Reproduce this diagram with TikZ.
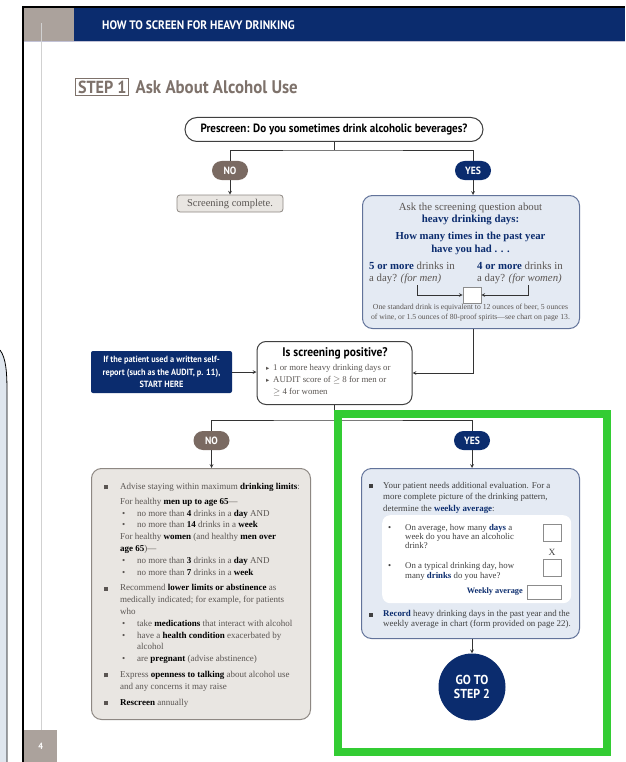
\documentclass[tikz,border=0pt]{standalone}
\usepackage{fontspec}
\setmainfont{Liberation Serif}
\newfontfamily\condfont[FakeStretch=0.92]{PT Sans}
\newfontfamily\symfont{DejaVu Sans}
\usepackage{xcolor}
\usepackage{tikz}
\usetikzlibrary{arrows,positioning}

\definecolor{navy}{HTML}{0B2C6E}
\definecolor{hdrgrey}{HTML}{ABA29C}
\definecolor{pillbrown}{HTML}{7A6A62}
\definecolor{steptxt}{HTML}{7E726B}
\definecolor{blufill}{HTML}{E4EAF3}
\definecolor{bluline}{HTML}{62739A}
\definecolor{greyfill}{HTML}{E9E6E2}
\definecolor{greyline}{HTML}{8E8883}
\definecolor{bodytxt}{HTML}{5A5552}
\definecolor{hlgreen}{HTML}{33CC33}
\definecolor{stripfill}{HTML}{DFE6EE}

\newcommand{\hb}[1]{\textbf{\color{black}#1}}
\newcommand{\nb}[1]{\textbf{\color{navy}#1}}
\newcommand{\sqbul}{\makebox[17pt][l]{\hspace{1pt}\rule{4pt}{4pt}}}
\newcommand{\dotbul}{\hspace*{19pt}\makebox[15pt][l]{\textbullet}}
\newcommand{\tribul}{\makebox[7pt][l]{{\symfont\fontsize{6.5}{6.5}\selectfont ▸}}}

\begin{document}
\begin{tikzpicture}[x=1pt, y=-1pt, >=stealth,
        pill/.style={rectangle, rounded corners=9.5pt, text=white, minimum width=36pt, minimum height=19pt, inner sep=0pt, font=\condfont\bfseries\fontsize{10.5}{10.5}\selectfont},
        nopill/.style={pill, fill=pillbrown},
        yespill/.style={pill, fill=navy},
        blubox/.style={rectangle, draw=bluline, fill=blufill, line width=1pt, rounded corners=10pt, minimum width=#1, anchor=north west, inner sep=0pt},
        greybox/.style={rectangle, draw=greyline, fill=greyfill, line width=1pt, rounded corners=10pt, anchor=north west, inner sep=0pt},
        ansbox/.style={rectangle, draw=black!45, fill=white, line width=0.6pt, inner sep=0pt},
        body/.style={anchor=north west, align=left, inner sep=0pt, text=bodytxt},
        cond/.style={font=\condfont\bfseries\fontsize{#1}{#1}\selectfont},
        wire/.style={draw=black!80, line width=0.7pt},
        link/.style={wire, ->}
    ]
    \useasboundingbox (0,0) rectangle (625,762);

    % page edge and neighbouring sheet
    \fill[stripfill] (0,350) .. controls (6,358) and (7,372) .. (7,392) -- (7,762) -- (0,762) -- cycle;
    \draw[line width=0.8pt] (0,350) .. controls (6,358) and (7,372) .. (7,392) -- (7,762);
    \fill[white] (23,7) rectangle (625,762);
    \draw[line width=1.3pt] (23,762) -- (23,7) -- (625,7);

    % header
    \fill[hdrgrey] (23.6,8) rectangle (74,41);
    \fill[navy] (74,8) rectangle (625,41);
    \draw[draw=blue!20!gray!40, line width=1pt] (23.6,41.5) -- (625,41.5);
    \draw[black!18, line width=0.8pt] (41,23) -- (41,730);
    \node[cond=12.3, text=white, anchor=west, inner sep=0pt] (header) at (102,25) {HOW TO SCREEN FOR HEAVY DRINKING};
    \node[fill=hdrgrey, text=white, minimum width=33pt, minimum height=32pt, anchor=north west, inner sep=0pt, font=\condfont\bfseries\fontsize{9}{9}\selectfont] (pageno) at (24,730) {4};

    % step title
    \node[draw=steptxt, text=steptxt, line width=1pt, cond=17.5, anchor=west, inner sep=2.5pt] (stepone) at (75,87) {STEP 1};
    \node[right=6pt of stepone, text=steptxt, cond=18.3, inner sep=0pt] (steptitle) {Ask About Alcohol Use};

    % prescreen
    \node[draw=black!75, fill=white, line width=1pt, rounded corners=12pt, minimum width=298pt, minimum height=24pt, inner sep=0pt, cond=12] (prescreen) at (334,129.5) {Prescreen: Do you sometimes drink alcoholic beverages?};
    \node[nopill] (nopill) at (230,170.5) {NO};
    \node[yespill] (yespill) at (473,170.5) {YES};
    \node[rectangle, draw=greyline, fill=greyfill, line width=0.8pt, rounded corners=3pt, minimum width=106pt, minimum height=17pt, inner sep=0pt, font=\fontsize{10.5}{10.5}\selectfont, text=bodytxt] (done) at (230,203.5) {Screening complete.};

    % screening question
    \node[blubox=217pt, minimum height=133pt] (screenq) at (362,195) {};
    \node[anchor=north, align=center, inner sep=0pt, text=bodytxt, font=\fontsize{10.8}{12}\selectfont] (askq) at (470.5,203) {Ask the screening question about\\\nb{heavy drinking days:}};
    \node[anchor=north, align=center, inner sep=0pt, text=navy, font=\bfseries\fontsize{10.7}{13}\selectfont] (howmany) at (470.5,232) {How many times in the past year\\have you had . . .};
    \node[body, font=\fontsize{10.8}{12}\selectfont] (formen) at (369,261.5) {\nb{5 or more} drinks in\\a day? \textit{(for men)}};
    \node[body, font=\fontsize{10.8}{12}\selectfont] (forwomen) at (477,261.5) {\nb{4 or more} drinks in\\a day? \textit{(for women)}};
    \node[ansbox, minimum width=18pt, minimum height=16pt] (tally) at (472,295) {};
    \coordinate (menbend) at (417,285);
    \coordinate (womenbend) at (528,285);
    \draw[link] (menbend) |- (tally.west);
    \draw[link] (womenbend) |- (tally.east);
    \node[anchor=north, align=center, inner sep=0pt, text=bodytxt, font=\fontsize{7.7}{10}\selectfont] (stdnote) at (470.5,304) {One standard drink is equivalent to 12 ounces of beer, 5 ounces\\of wine, or 1.5 ounces of 80-proof spirits---see chart on page 13.};

    % is screening positive
    \node[fill=navy, text=white, rounded corners=2pt, minimum width=141pt, minimum height=42pt, inner sep=0pt, align=center, font=\condfont\bfseries\fontsize{9}{12.5}\selectfont] (selfrep) at (161.5,372) {If the patient used a written self-\\report (such as the AUDIT, p. 11),\\START HERE};
    \node[draw=black!75, fill=white, line width=1pt, rounded corners=9pt, minimum width=155pt, minimum height=63pt, inner sep=0pt] (positive) at (334.5,373) {};
    \node[cond=12.5, inner sep=0pt] (postitle) at (335,353.5) {Is screening positive?};
    \node[body, font=\fontsize{8.8}{12}\selectfont] (poslist) at (266,364) {\tribul 1 or more heavy drinking days or\\\tribul AUDIT score of $\geq$ 8 for men or\\\hspace*{7pt}$\geq$ 4 for women};

    % second branch
    \coordinate (split1) at (334,150);
    \coordinate (split2) at (334.5,420);
    \node[nopill] (nopill2) at (211.5,440.5) {NO};
    \node[yespill] (yespill2) at (472,440.5) {YES};

    % advise box
    \node[greybox, minimum width=219pt, minimum height=251pt] (advise) at (91,468) {};
    \node[body, font=\fontsize{9}{11.8}\selectfont] (advlist) at (103,483) {%
        \sqbul Advise staying within maximum \hb{drinking limits}:\\[3pt]
        \hspace*{17pt}For healthy \hb{men up to age 65}---\\
        \dotbul no more than \hb{4} drinks in a \hb{day} AND\\
        \dotbul no more than \hb{14} drinks in a \hb{week}\\
        \hspace*{17pt}For healthy \hb{women} (and healthy \hb{men over}\\
        \hspace*{17pt}\hb{age 65})---\\
        \dotbul no more than \hb{3} drinks in a \hb{day} AND\\
        \dotbul no more than \hb{7} drinks in a \hb{week}\\[4pt]
        \sqbul Recommend \hb{lower limits or abstinence} as\\
        \hspace*{17pt}medically indicated; for example, for patients\\
        \hspace*{17pt}who\\
        \dotbul take \hb{medications} that interact with alcohol\\
        \dotbul have a \hb{health condition} exacerbated by\\
        \hspace*{34pt}alcohol\\
        \dotbul are \hb{pregnant} (advise abstinence)\\[4pt]
        \sqbul Express \hb{openness to talking} about alcohol use\\
        \hspace*{17pt}and any concerns it may raise\\[4pt]
        \sqbul \hb{Rescreen} annually};

    % evaluate box
    \node[blubox=218pt, minimum height=170pt] (evaluate) at (361,468) {};
    \node[body, font=\fontsize{8.9}{11.5}\selectfont, text=black!75] (evaltext) at (369,482) {%
        \makebox[14pt][l]{\rule{4pt}{4pt}}Your patient needs additional evaluation. For a\\
        \hspace*{14pt}more complete picture of the drinking pattern,\\
        \hspace*{14pt}determine the \nb{weekly average}:};
    \node[fill=white, rounded corners=8pt, minimum width=189pt, minimum height=88pt, anchor=north west, inner sep=0pt] (inner) at (382,515) {};
    \node[body, font=\fontsize{8.8}{9}\selectfont, text=black!75] (daysq) at (388,524) {%
        \makebox[17pt][l]{\textbullet}On average, how many \nb{days} a\\
        \hspace*{17pt}week do you have an alcoholic\\
        \hspace*{17pt}drink?};
    \node[body, font=\fontsize{8.8}{10}\selectfont, text=black!75] (drinksq) at (388,562) {%
        \makebox[17pt][l]{\textbullet}On a typical drinking day, how\\
        \hspace*{17pt}many \nb{drinks} do you have?};
    \node[ansbox, minimum width=18pt, minimum height=17pt] (daysbox) at (552,532.5) {};
    \node[inner sep=0pt, text=black!75, font=\fontsize{9.5}{9.5}\selectfont] (timesx) at (552,552) {X};
    \node[ansbox, minimum width=18pt, minimum height=17pt] (drinksbox) at (552,568) {};
    \node[ansbox, minimum width=34pt, minimum height=14pt] (avgbox) at (544,592) {};
    \node[anchor=east, inner sep=0pt, text=navy, font=\bfseries\fontsize{8.3}{8.3}\selectfont] (wkavg) at (523,592) {Weekly average};
    \node[body, font=\fontsize{8.9}{10}\selectfont, text=black!75] (record) at (369,610.5) {%
        \makebox[14pt][l]{\rule{4pt}{4pt}}\nb{Record} heavy drinking days in the past year and the\\
        \hspace*{14pt}weekly average in chart (form provided on page 22).};
    \node[circle, fill=navy, text=white, minimum size=67pt, inner sep=0pt, align=center, font=\condfont\bfseries\fontsize{13}{14.5}\selectfont] (step2) at (472,687) {GO TO\\STEP 2};

    % connectors
    \draw[wire] (prescreen.south) -- (split1);
    \draw[wire] (nopill.north) |- (split1) -| (yespill.north);
    \draw[link] (nopill.south) -- (done.north);
    \draw[link] (yespill.south) -- (yespill.south |- screenq.north);
    \draw[link] (screenq.south -| yespill.south) |- (positive.east);
    \draw[link] (selfrep.east) -- (selfrep.east -| positive.west);
    \draw[wire] (positive.south) -- (split2);
    \draw[wire] (nopill2.north) |- (split2) -| (yespill2.north);
    \draw[link] (nopill2.south) -- (nopill2.south |- advise.north);
    \draw[link] (yespill2.south) -- (yespill2.south |- evaluate.north);
    \draw[link] (evaluate.south -| step2.north) -- (step2.north);

    % highlight
    \node[draw=hlgreen, line width=8pt, minimum width=269pt, minimum height=338pt, anchor=north west, inner sep=0pt] (hilite) at (334,410) {};
\end{tikzpicture}
\end{document}
